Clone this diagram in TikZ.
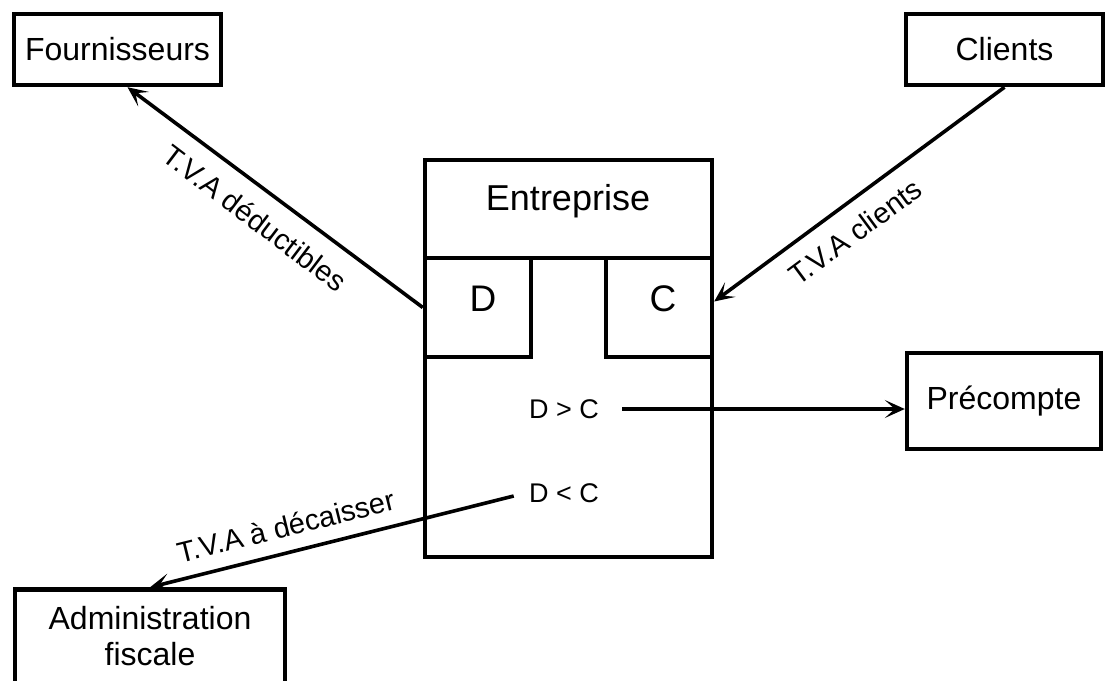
\documentclass[tikz,border=0pt]{standalone}
\usepackage{fontspec}
\setmainfont{Liberation Sans}
\usetikzlibrary{arrows.meta}
\begin{document}
\begin{tikzpicture}[x=0.5pt,y=-0.5pt,
  box/.style={draw, line width=2.2pt, inner sep=0pt, align=center},
  conn/.style={line width=1.8pt, -{Stealth[length=10pt,width=9pt,inset=5pt]}},
  big/.style={font=\fontsize{16}{18}\selectfont},
  lbl/.style={font=\fontsize{14.5}{17}\selectfont, inner sep=0pt}]
\useasboundingbox (0,0) rectangle (1108,680);
\clip (0,0) rectangle (1108,680);
% outer boxes
\node[box, big, minimum width=103.5pt, minimum height=35.5pt] (four) at (117.5,49.5) {Fournisseurs};
\node[box, big, minimum width=98.5pt, minimum height=35.5pt] (cli) at (1004.5,49.5) {Clients};
\node[box, big, minimum width=97pt, minimum height=48pt] (prec) at (1004,401) {Précompte};
\node[box, big, minimum width=135pt, minimum height=47pt] (adm) at (150,636.5) {Administration\\fiscale};
% entreprise
\node[box, minimum width=143.5pt, minimum height=198.5pt] (ent) at (568.5,358.5) {};
\draw[line width=2.2pt] (ent.west |- 0,258) -- (ent.east |- 0,258);
\node[box, minimum width=53pt, minimum height=49.5pt] (dbox) at (478,307.5) {};
\node[box, minimum width=53pt, minimum height=49.5pt] (cbox) at (659,307.5) {};
\node[font=\fontsize{18}{20}\selectfont] (entl) at (568,201) {Entreprise};
\node[font=\fontsize{18.5}{20}\selectfont] (dl) at (483,299) {D};
\node[font=\fontsize{18.5}{20}\selectfont] (cl) at (663,299) {C};
\node[font=\fontsize{13.5}{16}\selectfont, inner sep=0pt] (dgc) at (564,409) {D > C};
\node[font=\fontsize{13.5}{16}\selectfont, inner sep=0pt] (dlc) at (564,493) {D < C};
% connectors
\draw[conn] (dbox.west) -- ([xshift=5pt]four.south);
\draw[conn] (cli.south) -- ([yshift=3pt]cbox.east);
\draw[conn] ([xshift=11.5pt]dgc.east) -- (dgc.east -| prec.west);
\draw[conn] ([xshift=-7.5pt,yshift=-1.5pt]dlc.west) -- (adm.north);
% labels
\node[lbl, rotate=-37.2] (l1) at (255,218) {T.V.A déductibles};
\node[lbl, rotate=36.5] (l2) at (855,232) {T.V.A clients};
\node[lbl, rotate=13.9] (l3) at (286,526) {T.V.A à décaisser};
\end{tikzpicture}
\end{document}
